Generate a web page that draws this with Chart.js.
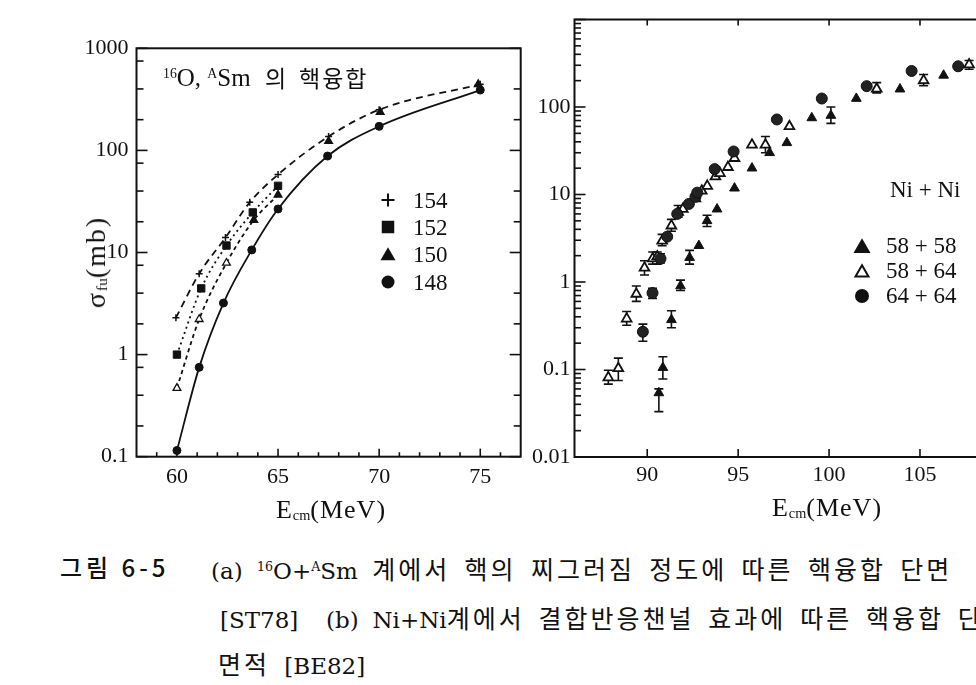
<!DOCTYPE html>
<html><head><meta charset="utf-8">
<script src="https://cdn.jsdelivr.net/npm/chart.js@4.4.1/dist/chart.umd.min.js"></script>
<style>
html,body{margin:0;padding:0;background:#fff;width:976px;height:685px;overflow:hidden;position:relative;}
canvas{position:absolute;left:0;top:0;}
.t{position:absolute;white-space:pre;color:#111;font-family:"Liberation Serif","Noto Sans CJK KR",serif;line-height:1;}
.t sub{font-size:0.55em;vertical-align:-0.15em;letter-spacing:0;}
.t sup{font-size:0.55em;vertical-align:0.6em;letter-spacing:0;}
.k{font-family:"Noto Sans CJK KR",sans-serif;}
.cap{font-family:"DejaVu Serif","Noto Sans CJK KR",serif;font-size:23px;word-spacing:7px;}
.h{font-family:"Noto Sans CJK KR",sans-serif;font-size:25px;letter-spacing:3px;}
</style></head><body>
<div style="position:absolute;left:0;top:0;width:540px;height:540px"><canvas id="ca" width="540" height="540"></canvas></div>
<div style="position:absolute;left:530px;top:0;width:492px;height:540px"><canvas id="cb" width="492" height="540"></canvas></div>

<div class="t" style="left:163px;top:65px;font-size:25px"><sup>16</sup>O, <sup>A</sup>Sm</div>
<div class="t k" style="left:265px;top:66px;font-size:23px">의</div>
<div class="t k" style="left:299px;top:66px;font-size:23px;letter-spacing:2px">핵융합</div>
<div class="t" style="left:96px;top:262px;font-size:28px;letter-spacing:2px;transform:translate(-50%,-50%) rotate(-90deg)">σ<sub>fu</sub>(mb)</div>
<div class="t" style="left:331px;top:510px;font-size:26px;letter-spacing:1px;transform:translate(-50%,-50%)">E<sub>cm</sub>(MeV)</div>
<div class="t" style="left:827px;top:508px;font-size:26px;letter-spacing:1px;transform:translate(-50%,-50%)">E<sub>cm</sub>(MeV)</div>

<div class="t" style="left:413px;top:189px;font-size:23px">154</div>
<div class="t" style="left:413px;top:216px;font-size:23px">152</div>
<div class="t" style="left:413px;top:243px;font-size:23px">150</div>
<div class="t" style="left:413px;top:271px;font-size:23px">148</div>

<div class="t" style="left:890px;top:178px;font-size:23px">Ni + Ni</div>
<div class="t" style="left:886px;top:234px;font-size:23px">58 + 58</div>
<div class="t" style="left:886px;top:259px;font-size:23px">58 + 64</div>
<div class="t" style="left:886px;top:284px;font-size:23px">64 + 64</div>

<div class="t k" style="left:60px;top:555px;font-size:24px;font-weight:500;letter-spacing:4px">그림 6-5</div>
<div class="t cap" style="left:211px;top:556px">(a) <sup>16</sup>O+<sup>A</sup>Sm <span class="h">계에서</span> <span class="h">핵의</span> <span class="h">찌그러짐</span> <span class="h">정도에</span> <span class="h">따른</span> <span class="h">핵융합</span> <span class="h">단면</span></div>
<div class="t cap" style="left:220px;top:605px;word-spacing:6.5px">[ST78]  (b) Ni+Ni<span class="h">계에서</span> <span class="h">결합반응챈널</span> <span class="h">효과에</span> <span class="h">따른</span> <span class="h">핵융합</span> <span class="h">단</span></div>
<div class="t cap" style="left:218px;top:651px"><span class="h">면적</span> [BE82]</div>

<script>
// ---------- data: (a) 16O + ASm ----------
const sm154E = [59.95, 61.1, 62.4, 63.6, 65.0, 67.5, 70.0, 75.0];
const sm154V = [2.3, 6.2, 14, 31, 58, 137, 250, 445];
const sm152E = [60.0, 61.2, 62.45, 63.75, 65.0];
const sm152V = [1.0, 4.45, 11.7, 24.7, 45];
const sm150E = [60.0, 61.1, 62.45, 63.8, 65.0, 67.5, 70.05, 74.9];
const sm150V = [0.47, 2.22, 7.9, 20.8, 36.7, 123, 237, 443];
const sm148E = [60.0, 61.1, 62.3, 63.7, 65.0, 67.45, 70.0, 75.0];
const sm148V = [0.115, 0.75, 3.2, 10.6, 26.7, 88, 172, 390];

// ---------- data: (b) Ni + Ni ----------
const ni5858E = [90.64, 90.86, 91.33, 91.83, 92.33, 92.84, 93.29, 93.84, 94.8, 95.76, 96.73, 97.68, 99.05, 100.1, 101.5, 103.9, 106.3];
const ni5858V = [0.054, 0.105, 0.37, 0.9, 1.9, 2.6, 5.0, 6.8, 11.8, 20, 30, 39, 75, 80, 125, 160, 230];
const ni5858Err = [[0.033,0.06],[0.078,0.14],[0.3,0.47],[0.8,1.05],[1.6,2.3],null,[4.3,5.8],null,null,null,null,null,null,[65,100],null,null,null];

const ni5864E = [87.86, 88.41, 88.87, 89.4, 89.85, 90.3, 90.55, 90.82, 91.33, 91.7, 91.96, 92.65, 93.0, 93.3, 93.75, 94.0, 94.44, 94.8, 95.76, 96.5, 97.82, 102.62, 105.2, 107.7];
const ni5864V = [0.081, 0.103, 0.38, 0.73, 1.45, 1.85, 1.95, 2.95, 4.4, 6.3, 6.8, 9.0, 11, 12.5, 16, 17.5, 20.5, 26, 37, 37, 60, 161, 201, 305];
const ni5864Err = [[0.068,0.098],[0.075,0.135],[0.32,0.46],[0.6,0.9],[1.2,1.75],[1.6,2.2],[1.6,2.2],[2.6,3.5],[3.8,5.2],[5.5,7.5],null,null,null,null,null,null,null,null,null,[30,46],null,[145,190],[175,235],[270,340]];

const ni6464E = [89.76, 90.29, 90.73, 91.1, 91.65, 92.29, 92.65, 92.75, 93.71, 94.75, 97.13, 99.6, 102.07, 104.54, 107.1];
const ni6464V = [0.27, 0.75, 1.85, 3.3, 6.0, 7.8, 9.4, 10.5, 19.5, 31, 72, 125, 173, 258, 292];
const ni6464Err = [[0.21,0.33],[0.65,0.85],[1.65,2.1],null,null,null,null,null,null,null,null,null,null,null,null];

// ---------- ticks ----------
const leftXTicks = [60, 65, 70, 75];
const leftXLabels = ['60', '65', '70', '75'];
const leftXMinor = [59, 61, 62, 63, 64, 66, 67, 68, 69, 71, 72, 73, 74, 76];
const leftYTicks = [0.1, 1, 10, 100, 1000];
const leftYLabels = ['0.1', '1', '10', '100', '1000'];
const leftYMinorL = [0.2, 0.4, 0.75, 2, 4, 7.5, 20, 40, 75, 200, 400, 750];
const leftYMinorR = [0.2, 0.4, 2, 4, 20, 40, 200, 400];
const rightXTicks = [90, 95, 100, 105];
const rightXLabels = ['90', '95', '100', '105'];
const rightYTicks = [0.01, 0.1, 1, 10, 100];
const rightYLabels = ['0.01', '0.1', '1', '10', '100'];
const rightYDecades = [0.01, 0.1, 1, 10, 100];
const rightYSteps = [2, 3, 4, 5, 6, 7, 8, 9];

const INK = '#111';
const mk = (E, V) => E.map((e, i) => ({x: e, y: V[i]}));

function drawMark(ctx, m) {
  ctx.save();
  ctx.lineWidth = m.lw || 1.6; ctx.strokeStyle = INK; ctx.fillStyle = m.fill || INK;
  const x = m.x, y = m.y, s = m.s;
  ctx.beginPath();
  if (m.style === 'circle') { ctx.arc(x, y, s / 2, 0, Math.PI * 2); ctx.fill(); }
  else if (m.style === 'rect') { ctx.fillRect(x - s / 2, y - s / 2, s, s); }
  else if (m.style === 'triangle') {
    const h = s * 0.87;
    ctx.moveTo(x, y - h * 0.6); ctx.lineTo(x + s / 2, y + h * 0.4); ctx.lineTo(x - s / 2, y + h * 0.4); ctx.closePath();
    ctx.fill(); if (m.fill === '#fff') ctx.stroke();
  } else if (m.style === 'cross') {
    ctx.moveTo(x - s / 2, y); ctx.lineTo(x + s / 2, y); ctx.moveTo(x, y - s / 2); ctx.lineTo(x, y + s / 2); ctx.stroke();
  }
  ctx.restore();
}

function framePlugin(items, legendMarks, frameW) {
  return {
    id: 'frame',
    beforeDatasetsDraw(chart) {
      const ctx = chart.ctx, a = chart.chartArea, sx = chart.scales.x, sy = chart.scales.y;
      ctx.save(); ctx.strokeStyle = INK; ctx.lineWidth = 1.6;
      items.forEach(it => {
        const sc = it.axis === 'x' ? sx : sy;
        it.values.forEach(v => {
          const p = sc.getPixelForValue(v);
          ctx.beginPath();
          if (it.side === 'bottom') { ctx.moveTo(p, a.bottom); ctx.lineTo(p, a.bottom - it.len); }
          else if (it.side === 'top') { ctx.moveTo(p, a.top); ctx.lineTo(p, a.top + it.len); }
          else if (it.side === 'left') { ctx.moveTo(a.left, p); ctx.lineTo(a.left + it.len, p); }
          else { ctx.moveTo(a.right, p); ctx.lineTo(a.right - it.len, p); }
          ctx.stroke();
        });
      });
      ctx.lineWidth = frameW;
      ctx.strokeRect(a.left, a.top, a.right - a.left, a.bottom - a.top);
      // error bars
      chart.data.datasets.forEach((ds) => {
        if (!ds.errors) return;
        ctx.lineWidth = 1.6;
        ds.errors.forEach((er, i) => {
          if (!er) return;
          const px = sx.getPixelForValue(ds.data[i].x);
          const y1 = sy.getPixelForValue(er[0]), y2 = sy.getPixelForValue(er[1]);
          ctx.beginPath();
          ctx.moveTo(px, y1); ctx.lineTo(px, y2);
          ctx.moveTo(px - 4.5, y1); ctx.lineTo(px + 4.5, y1);
          ctx.moveTo(px - 4.5, y2); ctx.lineTo(px + 4.5, y2);
          ctx.stroke();
        });
      });
      ctx.restore();
    },
    afterDatasetsDraw(chart) {
      legendMarks.forEach(m => drawMark(chart.ctx, m));
    }
  };
}

const tickFont = {family: 'Liberation Serif', size: 22};

function axisX(min, max, ticks, labels, h, pad) {
  return {
    type: 'linear', min: min, max: max,
    grid: {display: false, drawTicks: false}, border: {display: false},
    ticks: {font: tickFont, color: INK, padding: pad, maxRotation: 0, autoSkip: false,
      callback: (v) => labels[ticks.indexOf(v)]},
    afterBuildTicks: s => { s.ticks = ticks.map(v => ({value: v})); },
    afterFit: s => { s.height = h; }
  };
}
function axisY(min, max, ticks, labels, w, pad) {
  return {
    type: 'logarithmic', min: min, max: max,
    grid: {display: false, drawTicks: false}, border: {display: false},
    ticks: {font: tickFont, color: INK, padding: pad, autoSkip: false,
      callback: (v) => labels[ticks.indexOf(v)]},
    afterBuildTicks: s => { s.ticks = ticks.map(v => ({value: v})); },
    afterFit: s => { s.width = w; }
  };
}

const common = {
  responsive: false, animation: false, events: [],
  plugins: {legend: {display: false}, tooltip: {enabled: false}}
};

// ---------- chart (a) ----------
new Chart(document.getElementById('ca'), {
  type: 'scatter',
  data: {datasets: [
    {label: '148', data: mk(sm148E, sm148V), showLine: true, borderColor: INK, borderWidth: 1.8,
     cubicInterpolationMode: 'monotone', pointStyle: 'circle', pointRadius: 4,
     pointBackgroundColor: INK, pointBorderColor: INK, pointBorderWidth: 1},
    {label: '152', data: mk(sm152E, sm152V), showLine: true, borderColor: INK, borderWidth: 1.8, borderDash: [2, 3.5],
     cubicInterpolationMode: 'monotone', pointStyle: 'rect', pointRadius: 5.2,
     pointBackgroundColor: INK, pointBorderColor: INK, pointBorderWidth: 1},
    {label: '150', data: mk(sm150E, sm150V), showLine: true, borderColor: INK, borderWidth: 1.8, borderDash: [4, 3.5],
     cubicInterpolationMode: 'monotone', pointStyle: 'triangle', pointRadius: 4.5,
     segment: {borderColor: c => c.p0DataIndex >= 4 ? 'rgba(0,0,0,0)' : INK},
     pointBackgroundColor: c => c.dataIndex < 3 ? '#fff' : INK, pointBorderColor: INK, pointBorderWidth: 1.3},
    {label: '154', data: mk(sm154E, sm154V), showLine: true, borderColor: INK, borderWidth: 1.8, borderDash: [7, 5],
     cubicInterpolationMode: 'monotone', pointStyle: 'cross', pointRadius: 3.5,
     pointBorderColor: INK, pointBorderWidth: 1.5}
  ]},
  options: Object.assign({}, common, {
    layout: {padding: {top: 48.3, right: 19.3, left: 0, bottom: 0}},
    scales: {
      x: axisX(58, 77, leftXTicks, leftXLabels, 83.3, 7),
      y: axisY(0.1, 1000, leftYTicks, leftYLabels, 136.5, 8)
    }
  }),
  plugins: [framePlugin([
    {axis: 'x', side: 'bottom', values: leftXTicks, len: 8},
    {axis: 'x', side: 'bottom', values: leftXMinor, len: 4.5},
    {axis: 'y', side: 'left', values: leftYTicks, len: 11},
    {axis: 'y', side: 'left', values: leftYMinorL, len: 7},
    {axis: 'y', side: 'right', values: leftYTicks, len: 11},
    {axis: 'y', side: 'right', values: leftYMinorR, len: 7}
  ], [
    {style: 'cross', x: 388, y: 200, s: 13, lw: 2},
    {style: 'rect', x: 388, y: 227, s: 12.5},
    {style: 'triangle', x: 388, y: 255, s: 15},
    {style: 'circle', x: 388, y: 282, s: 13}
  ], 2)]
});

// ---------- chart (b) ----------
const minorR = [];
rightYDecades.forEach(d => rightYSteps.forEach(k => minorR.push(d * k)));
const OX = 530;
new Chart(document.getElementById('cb'), {
  type: 'scatter',
  data: {datasets: [
    {label: '58+58', data: mk(ni5858E, ni5858V), errors: ni5858Err, pointStyle: 'triangle', pointRadius: 5.6,
     pointBackgroundColor: INK, pointBorderColor: INK, pointBorderWidth: 1},
    {label: '64+64', data: mk(ni6464E, ni6464V), errors: ni6464Err, pointStyle: 'circle', pointRadius: 5.5,
     pointBackgroundColor: '#222', pointBorderColor: INK, pointBorderWidth: 1},
    {label: '58+64', data: mk(ni5864E, ni5864V), errors: ni5864Err, pointStyle: 'triangle', pointRadius: 5.6,
     pointBackgroundColor: '#fff', pointBorderColor: INK, pointBorderWidth: 1.8}
  ]},
  options: Object.assign({}, common, {
    layout: {padding: {top: 19.5, right: 11.1, left: 0, bottom: 0}},
    scales: {
      x: axisX(86, 110, rightXTicks, rightXLabels, 83, 5),
      y: axisY(0.01, 1000, rightYTicks, rightYLabels, 44.5, 4)
    }
  }),
  plugins: [framePlugin([
    {axis: 'x', side: 'bottom', values: rightXTicks, len: 8},
    {axis: 'x', side: 'top', values: rightXTicks, len: 6},
    {axis: 'y', side: 'left', values: rightYTicks.concat([1000]), len: 11},
    {axis: 'y', side: 'left', values: minorR, len: 6.5}
  ], [
    {style: 'triangle', x: 862 - OX, y: 247, s: 17},
    {style: 'triangle', x: 862 - OX, y: 272, s: 13, fill: '#fff', lw: 2},
    {style: 'circle', x: 862 - OX, y: 296, s: 14}
  ], 2)]
});
</script>
</body></html>
